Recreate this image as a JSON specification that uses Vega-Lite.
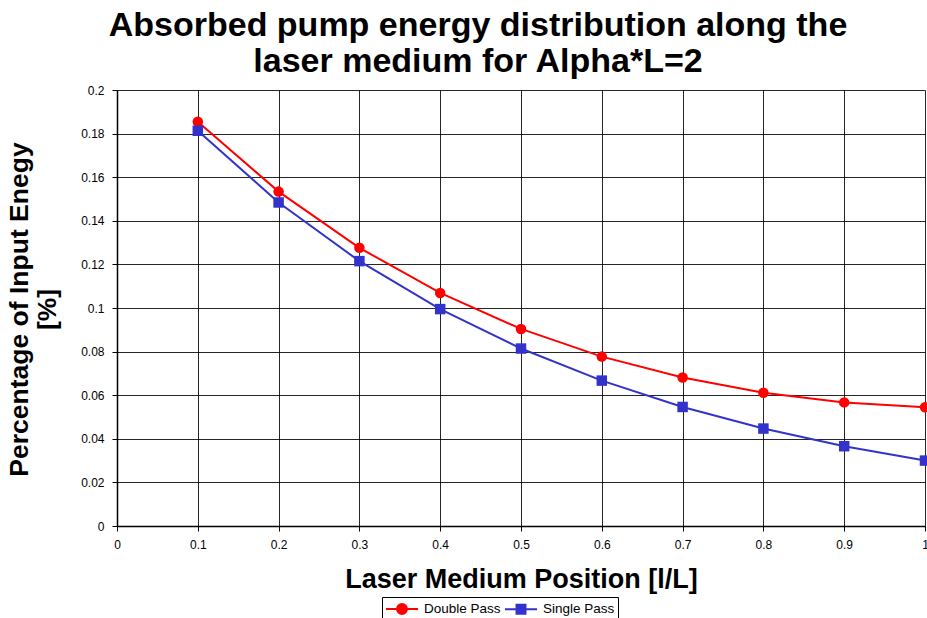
{
  "$schema": "https://vega.github.io/schema/vega-lite/v6.json",
  "width": 808,
  "height": 436,
  "autosize": {"type": "none"},
  "padding": {"left": 117, "top": 90, "right": 2, "bottom": 92},
  "background": "white",
  "title": {
    "text": ["Absorbed pump energy distribution along the", "laser medium for Alpha*L=2"],
    "font": "Liberation Sans, Arial, sans-serif",
    "fontSize": 34,
    "fontWeight": "bold",
    "color": "#000000",
    "anchor": "middle",
    "dx": -43,
    "offset": 5,
    "lineHeight": 36
  },
  "config": {
    "view": {"stroke": null},
    "font": "Liberation Sans, Arial, sans-serif",
    "axis": {
      "labelFont": "Liberation Sans, Arial, sans-serif",
      "labelFontSize": 12,
      "labelColor": "#000000",
      "gridColor": "#000000",
      "gridOpacity": 0.85,
      "gridWidth": 1,
      "domainColor": "#000000",
      "domainWidth": 1.5,
      "tickColor": "#000000",
      "tickSize": 5,
      "titleFont": "Liberation Sans, Arial, sans-serif",
      "titleFontWeight": "bold",
      "titleColor": "#000000"
    }
  },
  "data": {
    "values": [
      {"pos": 0.1, "val": 0.1854, "series": "Double Pass"},
      {"pos": 0.2, "val": 0.1534, "series": "Double Pass"},
      {"pos": 0.3, "val": 0.1276, "series": "Double Pass"},
      {"pos": 0.4, "val": 0.1069, "series": "Double Pass"},
      {"pos": 0.5, "val": 0.0904, "series": "Double Pass"},
      {"pos": 0.6, "val": 0.0777, "series": "Double Pass"},
      {"pos": 0.7, "val": 0.0681, "series": "Double Pass"},
      {"pos": 0.8, "val": 0.0611, "series": "Double Pass"},
      {"pos": 0.9, "val": 0.0567, "series": "Double Pass"},
      {"pos": 1.0, "val": 0.0545, "series": "Double Pass"},
      {"pos": 0.1, "val": 0.1813, "series": "Single Pass"},
      {"pos": 0.2, "val": 0.1484, "series": "Single Pass"},
      {"pos": 0.3, "val": 0.1215, "series": "Single Pass"},
      {"pos": 0.4, "val": 0.0995, "series": "Single Pass"},
      {"pos": 0.5, "val": 0.0814, "series": "Single Pass"},
      {"pos": 0.6, "val": 0.0667, "series": "Single Pass"},
      {"pos": 0.7, "val": 0.0546, "series": "Single Pass"},
      {"pos": 0.8, "val": 0.0447, "series": "Single Pass"},
      {"pos": 0.9, "val": 0.0366, "series": "Single Pass"},
      {"pos": 1.0, "val": 0.0300, "series": "Single Pass"}
    ]
  },
  "encoding": {
    "x": {
      "field": "pos",
      "type": "quantitative",
      "scale": {"domain": [0, 1], "nice": false, "zero": true},
      "axis": {
        "values": [0, 0.1, 0.2, 0.3, 0.4, 0.5, 0.6, 0.7, 0.8, 0.9, 1],
        "format": "~g",
        "title": "Laser Medium Position [l/L]",
        "titleFontSize": 27,
        "titleX": 404,
        "titleY": 40,
        "titleAlign": "center",
        "titleBaseline": "top",
        "labelPadding": 8,
        "labelFlush": false,
        "encode": {"labels": {"update": {"align": {"signal": "datum.value === 1 ? 'right' : 'center'"}}}}
      }
    },
    "y": {
      "field": "val",
      "type": "quantitative",
      "scale": {"domain": [0, 0.2], "nice": false},
      "axis": {
        "values": [0, 0.02, 0.04, 0.06, 0.08, 0.1, 0.12, 0.14, 0.16, 0.18, 0.2],
        "format": "~g",
        "title": ["Percentage of Input Enegy", "[%]"],
        "titleFontSize": 26.5,
        "titleAngle": -90,
        "titleX": -111,
        "titleY": 219,
        "titleAlign": "center",
        "titleBaseline": "top",
        "titleLineHeight": 28,
        "labelPadding": 8,
        "labelFlush": false
      }
    }
  },
  "layer": [
    {
      "mark": {"type": "line", "strokeWidth": 2},
      "encoding": {
        "color": {
          "field": "series",
          "type": "nominal",
          "scale": {"domain": ["Double Pass", "Single Pass"], "range": ["#ff0000", "#3333cc"]},
          "legend": null
        }
      }
    },
    {
      "transform": [{"filter": "datum.series === 'Double Pass'"}],
      "mark": {"type": "point", "shape": "circle", "filled": true, "opacity": 1, "size": 110, "color": "#ff0000"},
      "encoding": {}
    },
    {
      "transform": [{"filter": "datum.series === 'Single Pass'"}],
      "mark": {"type": "point", "shape": "square", "filled": true, "opacity": 1, "size": 110, "color": "#3333cc"},
      "encoding": {}
    },
    {
      "transform": [{"filter": "datum.pos > 5"}],
      "mark": {"type": "point", "filled": true, "opacity": 1, "size": 256, "strokeWidth": 2},
      "encoding": {
        "shape": {
          "field": "series",
          "type": "nominal",
          "scale": {"domain": ["Double Pass", "Single Pass"], "range": ["M-2,0L2,0M0.62,0A0.62,0.62,0,1,1,-0.62,0A0.62,0.62,0,1,1,0.62,0Z", "M-2,0L2,0M-0.56,-0.56L0.56,-0.56L0.56,0.56L-0.56,0.56Z"]},
          "legend": {
            "title": null,
            "orient": "none",
            "legendX": 265,
            "legendY": 507,
            "direction": "horizontal",
            "strokeColor": "#000000",
            "fillColor": "#ffffff",
            "padding": 3,
            "labelFont": "Liberation Sans, Arial, sans-serif",
            "labelFontSize": 13.5,
            "labelColor": "#000000",
            "labelOffset": 13,
            "symbolOffset": 8,
            "columnPadding": 0,
            "symbolSize": 256,
            "symbolStrokeWidth": 2,
            "symbolOpacity": 1
          }
        },
        "fill": {
          "field": "series",
          "type": "nominal",
          "scale": {"domain": ["Double Pass", "Single Pass"], "range": ["#ff0000", "#3333cc"]},
          "legend": {"title": null}
        },
        "stroke": {
          "field": "series",
          "type": "nominal",
          "scale": {"domain": ["Double Pass", "Single Pass"], "range": ["#ff0000", "#3333cc"]},
          "legend": {"title": null}
        }
      }
    }
  ],
  "resolve": {"legend": {"color": "independent"}}
}
